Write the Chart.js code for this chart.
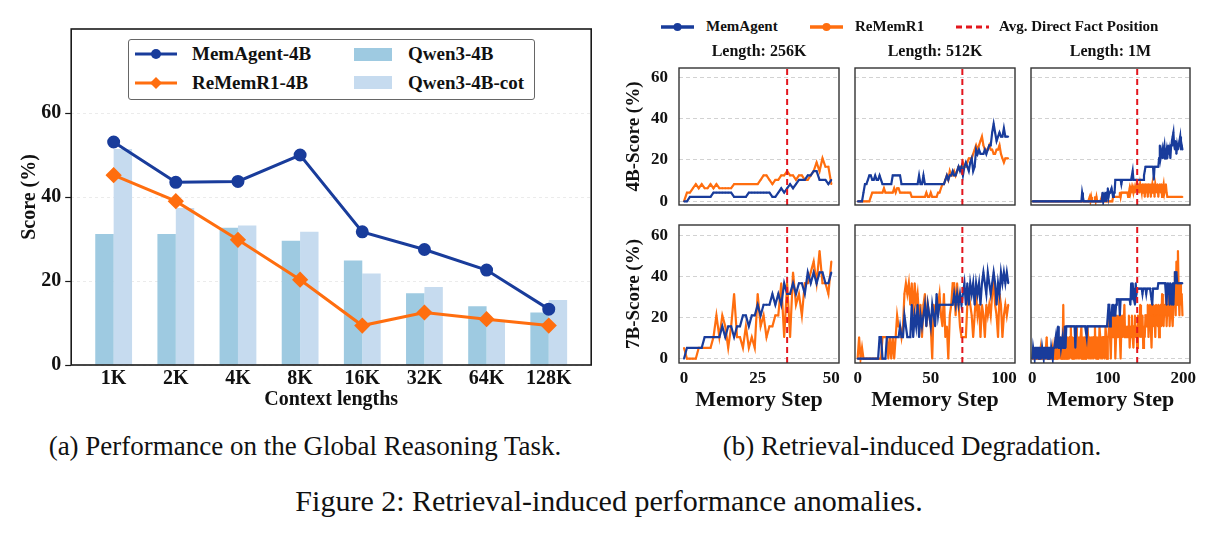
<!DOCTYPE html>
<html>
<head>
<meta charset="utf-8">
<title>Retrieval-induced performance anomalies</title>
<script src="https://cdn.jsdelivr.net/npm/chart.js@4/dist/chart.umd.min.js"></script>
<style>
  html, body { margin: 0; padding: 0; background: #fff; }
  #page { position: relative; width: 1214px; height: 533px; overflow: hidden;
          font-family: "Liberation Serif", "Times New Roman", serif; color: #111; }
  #page canvas { position: absolute; }
  .txt { position: absolute; white-space: nowrap; line-height: 1; font-weight: bold; }
  .icon { position: absolute; }
  .icon svg { display: block; }
  .cap { position: absolute; white-space: nowrap; line-height: 1; transform: translateX(-50%); }
  #legendA { position: absolute; left: 128px; top: 39px; width: 407px; height: 61px;
             box-sizing: border-box; border: 1px solid #666; border-radius: 3px; background: #fff; }
</style>
</head>
<body>
<div id="page">
  <canvas id="global" width="606" height="412" style="left:0;top:0"></canvas>
  <div id="legendA"></div>
  <div class="cap" style="left:305px; top:433px; font-size:27px">(a) Performance on the Global Reasoning Task.</div>
  <div class="cap" style="left:912px; top:433px; font-size:27px">(b) Retrieval-induced Degradation.</div>
  <div class="cap" style="left:609px; top:486px; font-size:30px">Figure 2: Retrieval-induced performance anomalies.</div>
</div>
<script>
// (a) global reasoning task
const lengths = ['1K', '2K', '4K', '8K', '16K', '32K', '64K', '128K'];
const memAgent4B = [53.1, 43.5, 43.7, 50.0, 31.7, 27.5, 22.6, 13.3];
const reMemR14B = [45.2, 39.0, 29.8, 20.3, 9.4, 12.5, 10.9, 9.4];
const qwen4B = [31.2, 31.2, 32.7, 29.6, 24.9, 17.1, 14.0, 12.5];
const qwen4BCot = [51.4, 37.4, 33.2, 31.7, 21.8, 18.6, 10.8, 15.5];
const scoreTicks = [0, 20, 40, 60];

// (b) retrieval-induced degradation
const panelTitles = ['Length: 256K', 'Length: 512K', 'Length: 1M'];
const rowTitles = ['4B-Score (%)', '7B-Score (%)'];
const stepTicks = [[0, 25, 50], [0, 50, 100], [0, 100, 200]];
const panelScoreTicks = [0, 20, 40, 60];
const factPosition = [35, 71.6, 139];

const mem4B_256K = [0,0,2.1,2.1,2.1,2.1,2.1,2.1,2.1,2.1, 4.2,4.2,4.2,4.2,4.2,4.2,4.2,2.1,2.1,2.1,
  2.1,2.1,4.2,4.2,4.2,4.2,4.2,4.2,4.2,4.2, 2.1,2.1,4.2,6.3,4.2,6.3,8.3,6.3,8.3,10.4,
  10.4,10.4,12.5,12.5,14.6,14.6,10.4,10.4,10.4,8.3, 10.4];
const rem4B_256K = [0,4.2,4.2,6.3,8.3,6.3,8.3,6.3,6.3,8.3, 6.3,8.3,6.3,6.3,6.3,6.3,6.3,8.3,8.3,8.3,
  8.3,8.3,8.3,8.3,8.3,8.3,10.4,12.5,12.5,10.4, 8.3,10.4,10.4,12.5,12.5,14.6,12.5,12.5,10.4,12.5,
  12.5,10.4,10.4,12.5,14.6,18.8,14.6,20.8,16.7,16.7, 8.3];
const mem7B_256K = [0,5.3,5.3,5.3,5.3,5.3,5.3,10.5,10.5,10.5, 10.5,10.5,10.5,15.8,10.5,15.8,15.8,10.5,15.8,15.8,
  21.1,21.1,15.8,21.1,21.1,26.3,21.1,26.3,26.3,26.3, 31.6,26.3,31.6,26.3,36.8,31.6,31.6,36.8,31.6,36.8,
  36.8,31.6,42.1,36.8,42.1,36.8,42.1,42.1,36.8,36.8, 42.1];
const rem7B_256K = [5.3,0,0,0,0,5.3,5.3,5.3,5.3,5.3, 10.5,21.1,10.5,21.1,15.8,5.3,15.8,31.6,10.5,10.5,
  5.3,15.8,5.3,10.5,5.3,31.6,15.8,21.1,10.5,15.8, 15.8,21.1,21.1,36.8,10.5,36.8,10.5,42.1,26.3,31.6,
  21.1,36.8,36.8,42.1,47.4,36.8,52.6,36.8,36.8,31.6, 47.4];

const mem4B_512K = [0,0,0,0,4.2,8.3,8.3,10.4,12.5,12.5, 10.4,10.4,12.5,10.4,10.4,12.5,10.4,8.3,8.3,8.3,
  8.3,8.3,8.3,8.3,12.5,12.5,12.5,12.5,12.5,12.5, 8.3,8.3,8.3,8.3,8.3,8.3,8.3,8.3,8.3,8.3,
  8.3,8.3,12.5,8.3,8.3,12.5,8.3,8.3,8.3,8.3, 8.3,8.3,8.3,8.3,8.3,8.3,8.3,8.3,8.3,8.3,
  10.4,12.5,10.4,12.5,12.5,14.6,12.5,12.5,14.6,16.7, 14.6,16.7,12.5,16.7,18.8,16.7,14.6,18.8,20.8,14.6,
  16.7,25,22.9,25,22.9,22.9,22.9,25,22.9,25, 27.1,27.1,33.3,37.5,33.3,29.2,31.3,33.3,31.3,31.3,
  35.4,31.3,31.3,31.3];
const rem4B_512K = [0,0,0,0,0,0,0,0,0,2.1, 4.2,4.2,4.2,4.2,4.2,4.2,4.2,4.2,6.3,4.2,
  4.2,4.2,4.2,4.2,4.2,6.3,4.2,6.3,6.3,4.2, 4.2,4.2,4.2,4.2,4.2,4.2,4.2,2.1,2.1,2.1,
  2.1,2.1,2.1,2.1,2.1,2.1,2.1,4.2,2.1,2.1, 4.2,2.1,2.1,2.1,2.1,4.2,4.2,6.3,8.3,8.3,
  10.4,12.5,10.4,14.6,12.5,12.5,14.6,12.5,14.6,16.7, 16.7,14.6,18.8,16.7,16.7,18.8,20.8,20.8,20.8,22.9,
  25,27.1,25,27.1,29.2,31.3,27.1,25,25,25, 27.1,25,25,22.9,22.9,25,25,27.1,22.9,20.8,
  18.8,20.8,20.8,20.8];
const mem7B_512K = [0,0,0,0,0,0,0,0,0,0, 0,0,0,0,0,10.5,10.5,0,0,0,
  10.5,10.5,10.5,10.5,10.5,10.5,10.5,10.5,10.5,15.8, 10.5,10.5,21.1,15.8,10.5,10.5,10.5,26.3,10.5,21.1,
  15.8,26.3,10.5,21.1,15.8,21.1,26.3,15.8,26.3,21.1, 15.8,26.3,21.1,15.8,31.6,21.1,26.3,26.3,26.3,26.3,
  26.3,26.3,26.3,26.3,26.3,26.3,31.6,26.3,31.6,26.3, 31.6,26.3,31.6,36.8,26.3,36.8,26.3,36.8,31.6,36.8,
  26.3,36.8,31.6,36.8,26.3,36.8,42.1,36.8,31.6,42.1, 36.8,31.6,36.8,42.1,36.8,26.3,36.8,31.6,42.1,36.8,
  42.1,36.8,42.1,36.8];
const rem7B_512K = [0,10.5,0,5.3,0,0,0,0,0,0, 0,0,0,0,0,0,0,10.5,10.5,10.5,
  10.5,0,10.5,0,10.5,0,10.5,21.1,15.8,15.8, 10.5,15.8,31.6,36.8,31.6,36.8,26.3,36.8,21.1,36.8,
  26.3,31.6,21.1,26.3,10.5,26.3,31.6,15.8,26.3,21.1, 15.8,0,26.3,21.1,26.3,26.3,31.6,21.1,15.8,31.6,
  10.5,15.8,0,21.1,26.3,36.8,36.8,21.1,36.8,26.3, 15.8,10.5,10.5,10.5,10.5,26.3,31.6,26.3,21.1,10.5,
  21.1,31.6,21.1,26.3,10.5,26.3,21.1,10.5,26.3,21.1, 26.3,21.1,31.6,36.8,26.3,21.1,10.5,31.6,26.3,10.5,
  21.1,26.3,21.1,26.3];

const mem4B_1M = [0,0,0,0,0,0,0,0,0,0, 0,0,0,0,0,0,0,0,0,0,
  0,0,0,0,0,0,0,0,0,0, 0,0,0,0,0,0,0,0,0,0,
  0,0,0,0,0,0,0,0,0,0, 0,0,0,0,0,0,0,0,0,0,
  0,0,0,0,0,0,4.2,2.1,0,0, 0,0,0,0,0,0,0,0,0,0,
  0,0,0,0,0,0,0,0,0,0, 0,0,0,4.2,0,2.1,0,4.2,0,4.2,
  6.3,2.1,4.2,4.2,4.2,6.3,4.2,2.1,4.2,4.2, 10.4,10.4,10.4,10.4,10.4,10.4,10.4,10.4,8.3,10.4,
  10.4,10.4,10.4,10.4,10.4,10.4,10.4,10.4,10.4,10.4, 10.4,10.4,10.4,14.6,10.4,10.4,10.4,10.4,10.4,10.4,
  10.4,10.4,10.4,10.4,10.4,10.4,10.4,10.4,12.5,14.6, 16.7,16.7,16.7,16.7,16.7,16.7,16.7,16.7,16.7,16.7,
  16.7,10.4,16.7,16.7,16.7,16.7,16.7,16.7,20.8,27.1, 20.8,22.9,25,20.8,25,27.1,20.8,22.9,25,20.8,
  27.1,22.9,25,20.8,27.1,29.2,31.3,33.3,27.1,25, 29.2,22.9,27.1,25,27.1,29.2,31.3,25,27.1,25];
const rem4B_1M = [0,0,0,0,0,0,0,0,0,0, 0,0,0,0,0,0,0,0,0,0,
  0,0,0,0,0,0,0,0,0,0, 0,0,0,0,0,0,0,0,0,0,
  0,0,0,0,0,0,0,0,0,0, 0,0,0,0,0,0,0,0,0,0,
  0,0,0,0,0,0,0,0,0,0, 0,0,0,0,0,0,2.1,0,2.1,0,
  0,0,0,2.1,0,2.1,0,0,0,0, 0,0,2.1,0,0,0,0,0,0,0,
  0,0,0,0,0,0,0,2.1,2.1,2.1, 2.1,2.1,2.1,2.1,2.1,2.1,4.2,2.1,4.2,4.2,
  4.2,4.2,4.2,4.2,4.2,4.2,4.2,2.1,4.2,6.3, 4.2,6.3,4.2,6.3,4.2,6.3,4.2,6.3,8.3,6.3,
  4.2,8.3,4.2,8.3,6.3,4.2,8.3,4.2,8.3,2.1, 8.3,4.2,8.3,2.1,8.3,4.2,8.3,2.1,6.3,8.3,
  4.2,8.3,2.1,8.3,6.3,4.2,8.3,2.1,6.3,8.3, 4.2,8.3,2.1,6.3,8.3,4.2,6.3,8.3,4.2,2.1,
  2.1,2.1,2.1,2.1,2.1,2.1,2.1,2.1,2.1,2.1, 2.1,2.1,2.1,2.1,2.1,2.1,2.1,2.1,2.1,2.1];
const mem7B_1M = [0,5.3,5.3,0,5.3,5.3,0,5.3,5.3,0, 5.3,5.3,0,5.3,5.3,0,5.3,5.3,0,5.3,
  5.3,0,5.3,5.3,0,5.3,5.3,0,5.3,5.3, 5.3,10.5,5.3,10.5,15.8,5.3,5.3,10.5,5.3,5.3,
  10.5,5.3,5.3,15.8,5.3,15.8,15.8,15.8,15.8,15.8, 15.8,15.8,15.8,15.8,15.8,15.8,15.8,5.3,15.8,15.8,
  15.8,15.8,15.8,15.8,15.8,15.8,15.8,15.8,15.8,15.8, 15.8,15.8,10.5,15.8,15.8,15.8,15.8,15.8,15.8,15.8,
  15.8,15.8,15.8,15.8,15.8,15.8,15.8,15.8,15.8,15.8, 15.8,15.8,15.8,15.8,15.8,15.8,15.8,15.8,15.8,15.8,
  15.8,26.3,26.3,15.8,21.1,21.1,26.3,21.1,26.3,21.1, 21.1,26.3,28.9,28.9,28.9,28.9,21.1,28.9,28.9,28.9,
  28.9,28.9,28.9,28.9,28.9,28.9,28.9,28.9,28.9,28.9, 26.3,36.8,28.9,36.8,31.6,34.2,26.3,36.8,31.6,34.2,
  34.2,34.2,34.2,34.2,34.2,34.2,31.6,34.2,34.2,34.2, 34.2,31.6,34.2,34.2,34.2,34.2,34.2,34.2,28.9,26.3,
  34.2,34.2,34.2,34.2,34.2,34.2,34.2,36.8,36.8,36.8, 36.8,36.8,36.8,36.8,36.8,36.8,36.8,36.8,26.3,36.8,
  31.6,36.8,26.3,36.8,31.6,26.3,36.8,26.3,36.8,42.1, 42.1,42.1,36.8,36.8,36.8,36.8,36.8,36.8,36.8,36.8];
const rem7B_1M = [0,0,5.3,0,0,0,5.3,0,0,0, 0,5.3,0,0,0,0,5.3,0,0,10.5,
  0,0,5.3,0,0,0,0,5.3,0,0, 0,10.5,0,0,10.5,0,5.3,0,10.5,0,
  0,26.3,0,10.5,0,10.5,0,10.5,5.3,0, 10.5,15.8,0,10.5,0,5.3,10.5,0,15.8,0,
  10.5,0,10.5,0,10.5,15.8,0,10.5,0,10.5, 0,10.5,0,15.8,10.5,0,10.5,0,10.5,0,
  10.5,0,10.5,15.8,0,10.5,0,10.5,0,15.8, 10.5,0,10.5,0,10.5,10.5,0,15.8,10.5,0,
  10.5,10.5,21.1,10.5,0,15.8,21.1,10.5,15.8,21.1, 0,10.5,21.1,15.8,10.5,21.1,10.5,0,15.8,21.1,
  10.5,15.8,26.3,10.5,15.8,10.5,15.8,10.5,21.1,5.3, 15.8,10.5,21.1,10.5,5.3,15.8,21.1,10.5,15.8,5.3,
  21.1,10.5,15.8,26.3,10.5,15.8,21.1,5.3,15.8,10.5, 21.1,21.1,15.8,26.3,10.5,21.1,26.3,15.8,5.3,21.1,
  26.3,15.8,21.1,10.5,26.3,21.1,15.8,26.3,10.5,21.1, 26.3,15.8,31.6,21.1,15.8,26.3,21.1,31.6,15.8,26.3,
  21.1,31.6,15.8,26.3,31.6,21.1,15.8,26.3,31.6,42.1, 21.1,47.4,26.3,52.6,31.6,21.1,36.8,26.3,31.6,21.1];

const memAgentRows = [[mem4B_256K, mem4B_512K, mem4B_1M], [mem7B_256K, mem7B_512K, mem7B_1M]];
const reMemR1Rows = [[rem4B_256K, rem4B_512K, rem4B_1M], [rem7B_256K, rem7B_512K, rem7B_1M]];

const BLUE = '#193c9b';
const ORANGE = '#ff6e0f';
const RED = '#e3161d';
const QWEN = '#9ecae1';
const QWEN_COT = '#c6dbef';

Chart.defaults.font.family = '"Liberation Serif", "Times New Roman", serif';
Chart.defaults.font.weight = 'bold';
Chart.defaults.color = '#111';

const page = document.getElementById('page');

// box around the plot area, like matplotlib spines
const framePlugin = {
  id: 'frame',
  afterDraw(chart, args, opts) {
    const {left, top, right, bottom} = chart.chartArea;
    const ctx = chart.ctx;
    ctx.save();
    ctx.strokeStyle = opts.color;
    ctx.lineWidth = opts.width;
    ctx.strokeRect(left, top, right - left, bottom - top);
    ctx.restore();
  }
};

const fixWidth = w => s => { s.width = w; };
const fixHeight = h => s => { s.height = h; };
const useTicks = list => s => { s.ticks = list.map(v => ({value: v})); };
const toPoints = arr => arr.map((y, i) => ({x: i, y}));

// ---------- (a) ----------
new Chart(document.getElementById('global'), {
  type: 'bar',
  data: {
    datasets: [
      {type: 'line', label: 'MemAgent-4B', data: toPoints(memAgent4B), borderColor: BLUE, backgroundColor: BLUE,
       borderWidth: 3, pointRadius: 5, pointStyle: 'circle', order: 0},
      {type: 'line', label: 'ReMemR1-4B', data: toPoints(reMemR14B), borderColor: ORANGE, backgroundColor: ORANGE,
       borderWidth: 3, pointRadius: 6, pointStyle: 'rectRot', order: 0},
      {type: 'bar', label: 'Qwen3-4B', data: toPoints(qwen4B), backgroundColor: QWEN,
       categoryPercentage: 0.592, barPercentage: 1, order: 1},
      {type: 'bar', label: 'Qwen3-4B-cot', data: toPoints(qwen4BCot), backgroundColor: QWEN_COT,
       categoryPercentage: 0.592, barPercentage: 1, order: 1}
    ]
  },
  options: {
    responsive: false,
    animation: false,
    layout: {padding: {left: 18, top: 29, right: 14.8, bottom: 0}},
    plugins: {legend: {display: false}, tooltip: {enabled: false}, frame: {color: '#1a1a1a', width: 1.6}},
    scales: {
      x: {
        type: 'linear', min: -0.683, max: 7.683, offset: false,
        afterBuildTicks: useTicks(lengths.map((_, i) => i)),
        ticks: {callback: v => lengths[v], font: {size: 20}, padding: 2, autoSkip: false, maxRotation: 0},
        grid: {display: false, drawTicks: false, offset: false},
        border: {display: false},
        title: {display: true, text: 'Context lengths', font: {size: 20}, padding: 0},
        afterFit: fixHeight(47)
      },
      y: {
        min: 0, max: 80,
        afterBuildTicks: useTicks(scoreTicks),
        ticks: {font: {size: 20}, padding: 4},
        grid: {color: 'rgba(0,0,0,0.08)', tickColor: '#1a1a1a', tickLength: 6, tickWidth: 1.2},
        border: {display: false, dash: [3, 3]},
        title: {display: true, text: 'Score (%)', font: {size: 20}, padding: 0},
        afterFit: fixWidth(53.2)
      }
    }
  },
  plugins: [framePlugin]
});

// ---------- (b) ----------
const colLeft = [679, 855, 1031];
const colRight = [839, 1015, 1190];
const rowTop = [68, 225];
const rowBottom = [205, 363];
const xRange = [[-1.7, 52.6], [-1.8, 107.6], [-1.8, 209]];
const yRange = [[-1.8, 64.5], [-2.1, 65.2]];

for (let r = 0; r < 2; r++) {
  for (let c = 0; c < 3; c++) {
    const padL = 8, padR = 14;
    const yW = c === 0 ? 56 : 0;
    const padT = r === 0 ? 2.4 : 22;
    const titleH = r === 0 ? 25.6 : 0;
    const xH = r === 0 ? 22 : 51;
    const boxW = colRight[c] - colLeft[c];
    const boxH = rowBottom[r] - rowTop[r];

    const canvas = document.createElement('canvas');
    canvas.width = padL + yW + boxW + padR;
    canvas.height = Math.round(padT + titleH + boxH + xH);
    canvas.style.left = (colLeft[c] - yW - padL) + 'px';
    canvas.style.top = Math.round(rowTop[r] - padT - titleH) + 'px';
    page.appendChild(canvas);

    const [yMin, yMax] = yRange[r];
    new Chart(canvas, {
      type: 'line',
      data: {
        datasets: [
          {label: 'Avg. Direct Fact Position', data: [{x: factPosition[c], y: yMin}, {x: factPosition[c], y: yMax}],
           borderColor: RED, borderWidth: 2, borderDash: [6, 4], pointRadius: 0, order: 0},
          {label: 'MemAgent', data: toPoints(memAgentRows[r][c]), borderColor: BLUE, backgroundColor: BLUE,
           borderWidth: 2.2, pointRadius: 0.9, pointBorderWidth: 0, order: 1},
          {label: 'ReMemR1', data: toPoints(reMemR1Rows[r][c]), borderColor: ORANGE, backgroundColor: ORANGE,
           borderWidth: 2.2, pointRadius: 0.9, pointBorderWidth: 0, order: 2}
        ]
      },
      options: {
        responsive: false,
        animation: false,
        layout: {padding: {left: padL, right: padR, top: padT, bottom: 0}},
        plugins: {
          legend: {display: false},
          tooltip: {enabled: false},
          title: {display: r === 0, text: panelTitles[c], fullSize: false, font: {size: 16},
                  padding: {top: 0, bottom: 6.4}, color: '#111'},
          frame: {color: '#333', width: 1.4}
        },
        scales: {
          x: {
            type: 'linear', min: xRange[c][0], max: xRange[c][1],
            afterBuildTicks: useTicks(stepTicks[c]),
            ticks: {display: r === 1, font: {size: 17}, padding: 5, autoSkip: false, maxRotation: 0},
            grid: {display: false, drawTicks: false},
            border: {display: false},
            title: {display: r === 1, text: 'Memory Step', font: {size: 22}, padding: 0},
            afterFit: fixHeight(xH)
          },
          y: {
            min: yMin, max: yMax,
            afterBuildTicks: useTicks(panelScoreTicks),
            ticks: {display: c === 0, font: {size: 17}, padding: 11},
            grid: {color: '#d2d2d2', lineWidth: 1, drawTicks: false},
            border: {display: false, dash: [4, 3]},
            title: {display: c === 0, text: rowTitles[r], font: {size: 19}, padding: 0},
            afterFit: fixWidth(yW)
          }
        }
      },
      plugins: [framePlugin]
    });
  }
}

// ---------- legends ----------
function addIcon(parent, svgInner, x, cy, w, h) {
  const d = document.createElement('div');
  d.className = 'icon';
  d.style.left = x + 'px';
  d.style.top = (cy - h / 2) + 'px';
  d.innerHTML = `<svg xmlns="http://www.w3.org/2000/svg" width="${w}" height="${h}">${svgInner}</svg>`;
  parent.appendChild(d);
}
function addText(parent, text, x, cy, size) {
  const s = document.createElement('div');
  s.className = 'txt';
  s.style.left = x + 'px';
  s.style.top = (cy - 0.506 * size) + 'px';
  s.style.fontSize = size + 'px';
  s.textContent = text;
  parent.appendChild(s);
}

// legend of (a), coordinates relative to its box
const legendA = document.getElementById('legendA');
const rowsA = [14, 42.5];
addIcon(legendA, `<line x1="0" y1="8" x2="42" y2="8" stroke="${BLUE}" stroke-width="3"/>` +
  `<circle cx="21" cy="8" r="5" fill="${BLUE}"/>`, 6, rowsA[0], 42, 16);
addText(legendA, 'MemAgent-4B', 63, rowsA[0], 19);
addIcon(legendA, `<line x1="0" y1="8" x2="42" y2="8" stroke="${ORANGE}" stroke-width="3"/>` +
  `<polygon points="21,2 27,8 21,14 15,8" fill="${ORANGE}"/>`, 6, rowsA[1], 42, 16);
addText(legendA, 'ReMemR1-4B', 63, rowsA[1], 19);
addIcon(legendA, `<rect x="0" y="0" width="38" height="13" fill="${QWEN}"/>`, 224.5, rowsA[0], 38, 13);
addText(legendA, 'Qwen3-4B', 279, rowsA[0], 19);
addIcon(legendA, `<rect x="0" y="0" width="38" height="13" fill="${QWEN_COT}"/>`, 224.5, rowsA[1], 38, 13);
addText(legendA, 'Qwen3-4B-cot', 279, rowsA[1], 19);

// legend of (b), above the panels
const legendY = 27;
addIcon(page, `<line x1="0" y1="7" x2="33" y2="7" stroke="${BLUE}" stroke-width="3.5"/>` +
  `<circle cx="16.5" cy="7" r="4" fill="${BLUE}"/>`, 661, legendY, 33, 14);
addText(page, 'MemAgent', 706, legendY, 15);
addIcon(page, `<line x1="0" y1="7" x2="33" y2="7" stroke="${ORANGE}" stroke-width="3.5"/>` +
  `<circle cx="16.5" cy="7" r="4" fill="${ORANGE}"/>`, 810, legendY, 33, 14);
addText(page, 'ReMemR1', 855, legendY, 15);
addIcon(page, `<line x1="0" y1="7" x2="33" y2="7" stroke="${RED}" stroke-width="3" stroke-dasharray="6,4"/>`,
  956, legendY, 33, 14);
addText(page, 'Avg. Direct Fact Position', 999, legendY, 15);
</script>
</body>
</html>
